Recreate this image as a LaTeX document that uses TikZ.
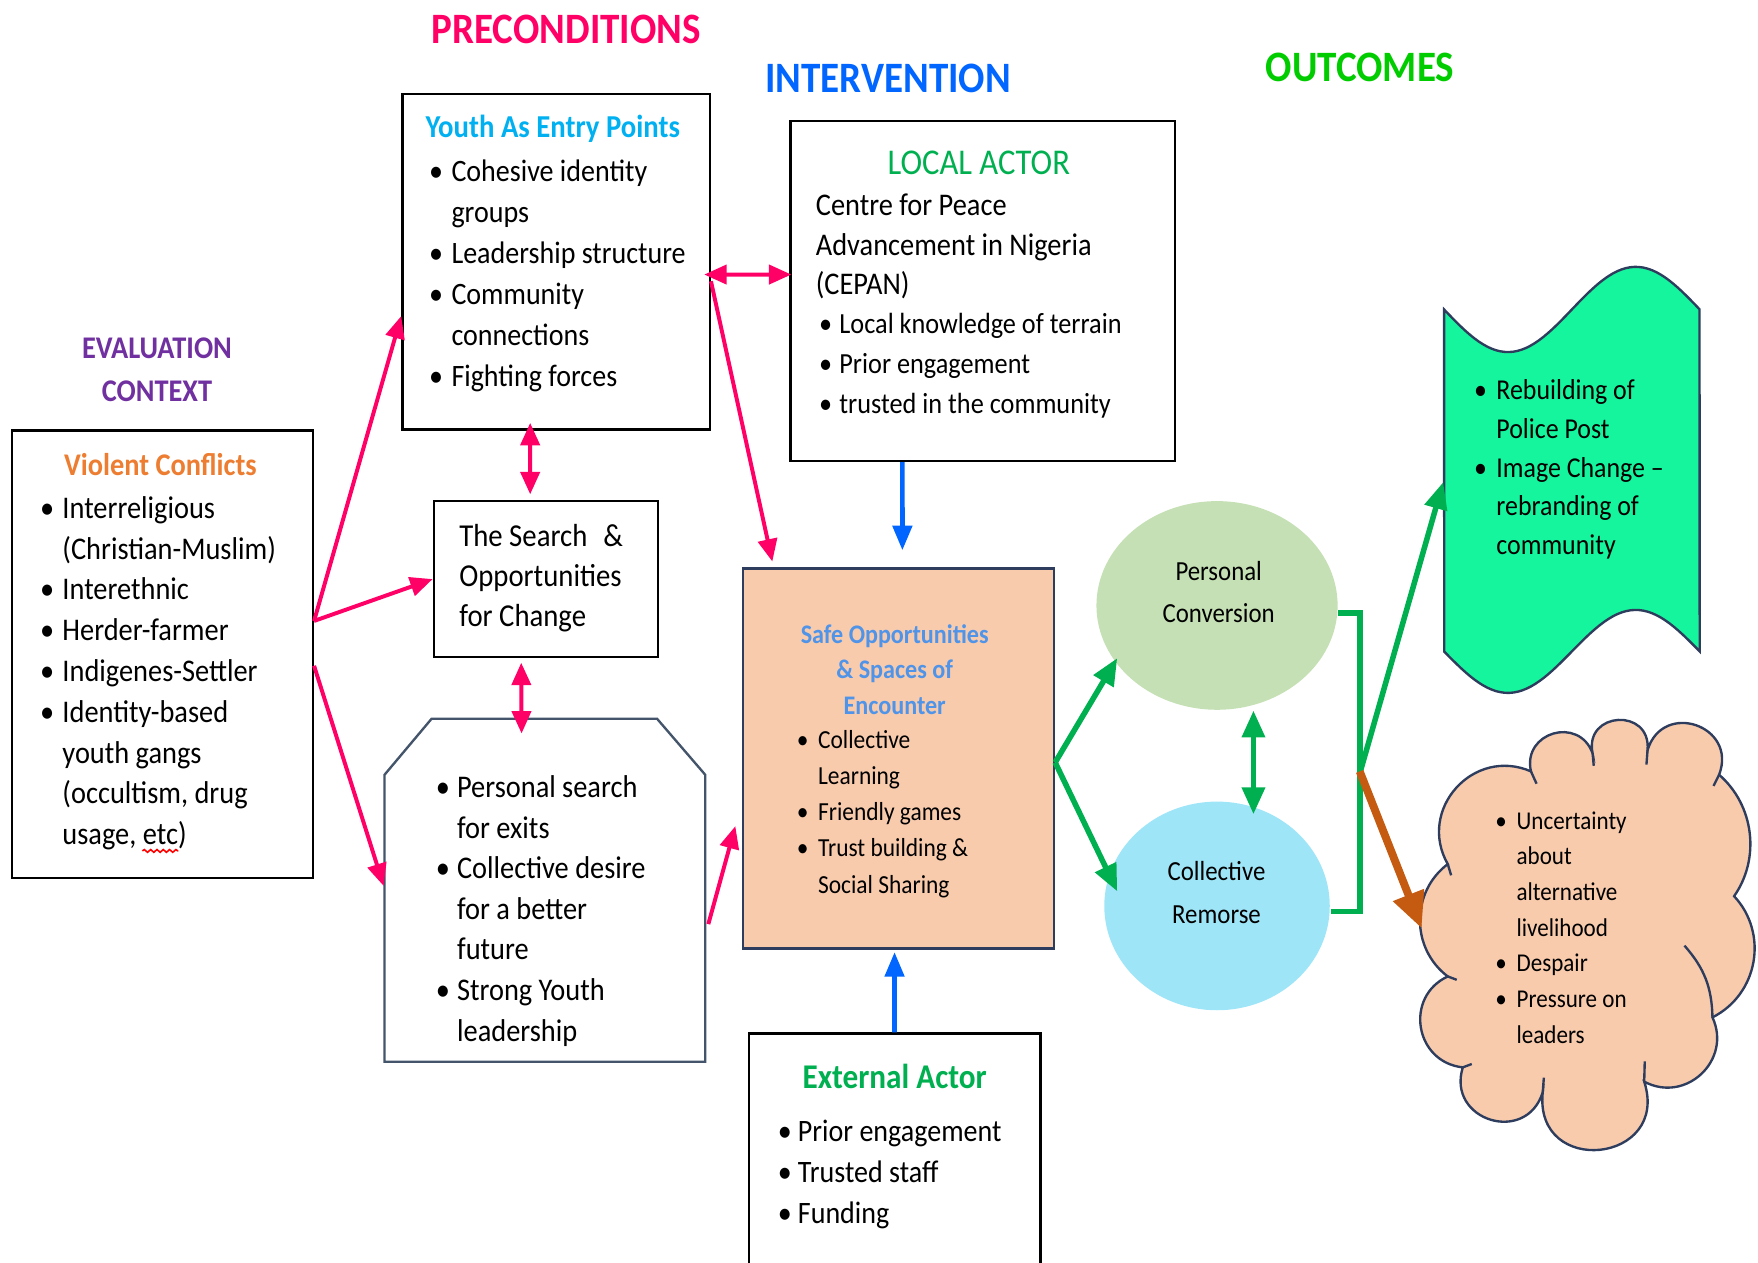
\documentclass[tikz,border=0pt]{standalone}
\usepackage{fontspec}
\setmainfont{Carlito}[FakeStretch=0.9]
\usetikzlibrary{arrows.meta,calc,shapes.geometric,decorations.pathmorphing}
\definecolor{cpink}{HTML}{FF0066}
\definecolor{cblue}{HTML}{0066FF}
\definecolor{cgreen}{HTML}{00B050}
\definecolor{cbright}{HTML}{00CC00}
\definecolor{cpurple}{HTML}{7030A0}
\definecolor{ccyan}{HTML}{00B0F0}
\definecolor{corange}{HTML}{ED7D31}
\definecolor{csafe}{HTML}{4F94E8}
\definecolor{cpeach}{HTML}{F8CBAD}
\definecolor{cpc}{HTML}{C5E0B4}
\definecolor{ccr}{HTML}{9FE5F8}
\definecolor{cbanner}{HTML}{14F59E}
\definecolor{cbrown}{HTML}{C55A11}
\definecolor{cnavy}{HTML}{2E3D5E}
\definecolor{cslate}{HTML}{44546A}
\newcommand\fsz[2]{\fontsize{#1}{#2}\selectfont}
\newcommand\mybul[1][0.19cm]{\makebox[#1][l]{\textbullet}}
\newcommand\myind[1][0.19cm]{\hspace*{#1}}
\tikzset{
  box/.style={draw=black, line width=0.6pt, rectangle, inner sep=0pt},
  ghost/.style={rectangle, inner sep=0pt},
  txt/.style={anchor=north west, align=left, inner sep=0pt},
  head/.style={font=\fsz{11}{13}\bfseries, inner sep=0pt},
  outline/.style={draw=cnavy, line width=0.6pt},
  pinkarrow/.style={draw=cpink, line width=1pt, -{Triangle[length=0.2cm,width=0.17cm]}},
  pinkdouble/.style={draw=cpink, line width=1pt, {Triangle[length=0.2cm,width=0.17cm]}-{Triangle[length=0.2cm,width=0.17cm]}},
  bluearrow/.style={draw=cblue, line width=1.2pt, -{Triangle[length=0.22cm,width=0.17cm]}},
  greenarrow/.style={draw=cgreen, line width=1.4pt, -{Triangle[length=0.24cm,width=0.2cm]}},
  greendouble/.style={draw=cgreen, line width=1.4pt, {Triangle[length=0.24cm,width=0.2cm]}-{Triangle[length=0.24cm,width=0.2cm]}},
  greenline/.style={draw=cgreen, line width=1.5pt},
  orangearrow/.style={draw=cbrown, line width=2pt, -{Triangle[length=0.32cm,width=0.28cm]}},
  spellwave/.style={draw=red, line width=0.4pt, decorate, decoration={snake, amplitude=0.35pt, segment length=1.6pt}},
}
\begin{document}
\begin{tikzpicture}[x=0.01cm, y=-0.01cm]
\useasboundingbox (0,0) rectangle (1568,1126);

% headings
\node[head, text=cpink] (hpre) at (505,26) {PRECONDITIONS};
\node[head, text=cblue] (hint) at (792,70) {INTERVENTION};
\node[head, text=cbright] (hout) at (1213,60) {OUTCOMES};
\node[font=\fsz{8}{10.8}\bfseries, text=cpurple, align=center, inner sep=0pt] (heval) at (140,330) {EVALUATION\\CONTEXT};

% boxes
\node[box, minimum width=2.74cm, minimum height=2.99cm] (youth) at (496,233.5) {};
\node[box, minimum width=3.43cm, minimum height=3.03cm] (local) at (876.5,259.5) {};
\node[box, minimum width=2.68cm, minimum height=3.99cm] (vc) at (145,583.5) {};
\node[box, minimum width=2.00cm, minimum height=1.39cm] (search) at (487,516.5) {};
\node[ghost, minimum width=2.86cm, minimum height=3.06cm] (octbox) at (486,794) {};
\draw[draw=cslate, line width=0.6pt] (343,947) -- (343,691) -- (385,641) -- (586,641) -- (629,691) -- (629,947) -- cycle;
\node[box, draw=cnavy, fill=cpeach, minimum width=2.77cm, minimum height=3.39cm] (safe) at (801.5,676.5) {};
\node[box, minimum width=2.60cm, minimum height=2.18cm] (ext) at (798,1031) {};
\node[ellipse, fill=cpc, inner sep=0pt, minimum width=2.15cm, minimum height=1.86cm] (pc) at (1085.5,540) {};
\node[ellipse, fill=ccr, inner sep=0pt, minimum width=2.01cm, minimum height=1.86cm] (cr) at (1085.5,808) {};

% wave banner
\node[ghost, minimum width=2.28cm, minimum height=3.05cm] (banner) at (1402,430) {};
\draw[outline, fill=cbanner]
  plot[domain=0:1, samples=60] ({1288+228*\x},{276+38*sin(360*\x)})
  -- plot[domain=1:0, samples=60] ({1288+228*\x},{581+37*sin(360*\x)}) -- cycle;

% cloud
\node[ghost, minimum width=3.0cm, minimum height=3.85cm] (cloud) at (1416,835) {};
\coordinate (j1) at (1365.5,688);
\coordinate (j2) at (1420.5,672);
\coordinate (j3) at (1469.5,669);
\coordinate (j4) at (1533.3,691);
\coordinate (j5) at (1546.7,799.3);
\coordinate (j6) at (1527.4,907.4);
\coordinate (j7) at (1466.5,964.7);
\coordinate (j8) at (1376,974.2);
\coordinate (j9) at (1304.7,952);
\coordinate (j10) at (1291.3,870.9);
\coordinate (j11) at (1291.3,770.7);
\draw[outline, fill=cpeach]
  (j1) to[bend left=86.5, looseness=1.6] (j2)
  to[bend left=98.5, looseness=2.0] (j3)
  to[bend left=92, looseness=1.77] (j4)
  to[bend left=42, looseness=0.97] (j5)
  to[bend left=53, looseness=1.06] (j6)
  to[bend left=71.5, looseness=1.29] (j7)
  to[bend left=102, looseness=2.16] (j8)
  to[bend left=90, looseness=1.7] (j9)
  to[bend left=74.5, looseness=1.34] (j10)
  to[bend left=53, looseness=1.06] (j11)
  to[bend left=71.5, looseness=1.29] (j1) -- cycle;
\draw[outline] (j1) -- ++(5,11);
\draw[outline] (j2) -- ++(1,11);
\draw[outline] (j3) -- ++(-1,13);
\draw[outline] (j4) -- ++(-5,10);
\draw[outline] (j6) to[bend right=20] ++(-25,-64);
\draw[outline] (j7) -- ++(0.5,-18);
\draw[outline] (j8) -- ++(1,-13);
\draw[outline] (j9) -- ++(8,-3);
\draw[outline] (j10) -- ++(8,3);
\draw[outline] (j11) -- ++(3,10);

% texts
\node[font=\fsz{8.1}{10}\bfseries, text=ccyan, inner sep=0pt] (tyouth) at (493,115) {Youth As Entry Points};
\node[txt, font=\fsz{7.9}{10.4}] (lyouth) at (382,142) {\mybul[0.2cm]Cohesive identity\\ \myind[0.2cm]groups\\ \mybul[0.2cm]Leadership structure\\ \mybul[0.2cm]Community\\ \myind[0.2cm]connections\\ \mybul[0.2cm]Fighting forces};

\node[font=\fsz{9.2}{11}, text=cgreen, inner sep=0pt] (tlocal) at (873,145) {LOCAL ACTOR};
\node[txt, font=\fsz{8}{10.1}] (plocal) at (727,172) {Centre for Peace\\ Advancement in Nigeria\\ (CEPAN)};
\node[txt, font=\fsz{7.4}{10.1}] (llocal) at (730,279) {\mybul[0.18cm]Local knowledge of terrain\\ \mybul[0.18cm]Prior engagement\\ \mybul[0.18cm]trusted in the community};

\node[font=\fsz{8}{10}\bfseries, text=corange, inner sep=0pt] (tvc) at (143,414) {Violent Conflicts};
\node[txt, font=\fsz{8}{10.35}] (lvc) at (35,442) {\mybul[0.2cm]Interreligious\\ \myind[0.2cm](Christian-Muslim)\\ \mybul[0.2cm]Interethnic\\ \mybul[0.2cm]Herder-farmer\\ \mybul[0.2cm]Indigenes-Settler\\ \mybul[0.2cm]Identity-based\\ \myind[0.2cm]youth gangs\\ \myind[0.2cm](occultism, drug\\ \myind[0.2cm]usage, etc)};
\draw[spellwave] ($(lvc.south west)+(92,0)$) -- ($(lvc.south west)+(124,0)$);

\node[txt, font=\fsz{8.1}{10.15}] (lsearch) at (409,467) {The Search\enspace\&\\ Opportunities\\ for Change};

\node[txt, font=\fsz{8}{10.3}] (loct) at (388,691) {\mybul Personal search\\ \myind for exits\\ \mybul Collective desire\\ \myind for a better\\ \myind future\\ \mybul Strong Youth\\ \myind leadership};

\node[font=\fsz{6.8}{9}\bfseries, text=csafe, align=center, inner sep=0pt] (tsafe) at (798,597) {Safe Opportunities\\ \& Spaces of\\ Encounter};
\node[txt, font=\fsz{6.6}{9.15}] (lsafe) at (710,651) {\mybul Collective\\ \myind Learning\\ \mybul Friendly games\\ \mybul Trust building \&\\ \myind Social Sharing};

\node[font=\fsz{8.8}{11}\bfseries, text=cgreen, inner sep=0pt] (text) at (798,960) {External Actor};
\node[txt, font=\fsz{7.9}{10.5}] (lext) at (693,998) {\mybul[0.18cm]Prior engagement\\ \mybul[0.18cm]Trusted staff\\ \mybul[0.18cm]Funding};

\node[font=\fsz{7}{10.8}, align=center, inner sep=0pt] (tpc) at (1087,528) {Personal\\Conversion};
\node[font=\fsz{7}{11}, align=center, inner sep=0pt] (tcr) at (1085,796) {Collective\\Remorse};

\node[txt, font=\fsz{7.3}{9.8}] (lbanner) at (1314,338) {\mybul[0.2cm]Rebuilding of\\ \myind[0.2cm]Police Post\\ \mybul[0.2cm]Image Change –\\ \myind[0.2cm]rebranding of\\ \myind[0.2cm]community};

\node[txt, font=\fsz{6.5}{9.05}] (lcloud) at (1333,723) {\mybul Uncertainty\\ \myind about\\ \myind alternative\\ \myind livelihood\\ \mybul Despair\\ \mybul Pressure on\\ \myind leaders};

% pink connectors
\draw[pinkarrow] ($(vc.north east)+(0,171)$) -- ($(youth.north west)+(0,199)$);
\draw[pinkarrow] ($(vc.north east)+(0,171)$) -- (search.west);
\draw[pinkarrow] ($(vc.north east)+(0,211)$) -- ($(octbox.north west)+(0,150)$);
\draw[pinkdouble] ($(youth.south west)+(115,-7)$) -- ($(search.north west)+(87,-5)$);
\draw[pinkdouble] ($(search.south west)+(79,4)$) -- ($(octbox.north west)+(123,14)$);
\draw[pinkdouble] ($(youth.north east)+(-6,162)$) -- ($(local.north west)+(2,138)$);
\draw[pinkarrow] ($(youth.north east)+(0,168)$) -- ($(safe.north west)+(27,-5)$);
\draw[pinkarrow] ($(octbox.north east)+(2,184)$) -- ($(safe.north west)+(-6,231)$);

% blue connectors
\draw[bluearrow] ($(local.south west)+(101,0)$) -- ($(safe.north west)+(143,-15)$);
\draw[bluearrow] ($(ext.north west)+(131,0)$) -- ($(safe.south west)+(136,2)$);

% green connectors
\draw[greenarrow] ($(safe.east)+(0,3.5)$) -- ($(pc.center)+(-89,47)$);
\draw[greenarrow] ($(safe.east)+(0,3.5)$) -- ($(cr.center)+(-89,-13)$);
\draw[greendouble] ($(pc.south)+(32.5,0)$) -- ($(cr.north)+(32.5,12)$);
\draw[greenline] ($(pc.east)+(0,7)$) -- ++(19,0) |- ($(cr.east)+(0,5)$);
\draw[greenarrow] ($(pc.east)+(19,150)$) -- (banner.west);
\draw[orangearrow] ($(pc.east)+(19,148)$) -- ($(cloud.center)+(-148,-7)$);
\end{tikzpicture}
\end{document}
